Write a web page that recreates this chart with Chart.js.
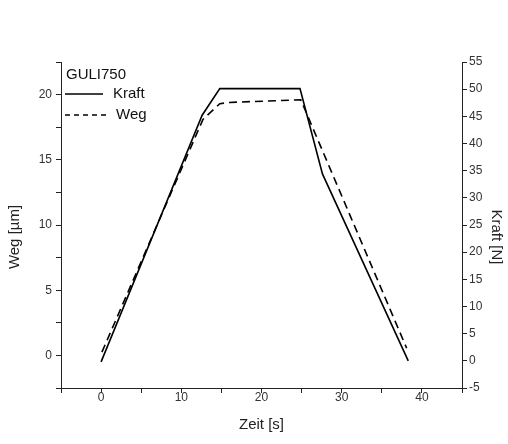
<!DOCTYPE html>
<html>
<head>
<meta charset="utf-8">
<script src="https://cdn.jsdelivr.net/npm/chart.js@4"></script>
<style>
  html,body{margin:0;padding:0;background:#fff;}
  #wrap{width:508px;height:444px;}
</style>
</head>
<body>
<div id="wrap"><canvas id="chart" width="508" height="444"></canvas></div>
<script>
/**** GULI750: force and displacement over time ****/

// time stamps [s] and values of the two recorded channels
const kraftTime = [0, 12.6, 14.8, 24.8, 27.6, 38.3];
const kraftVals = [-0.2, 45.2, 50.1, 50.1, 34.4, 0];     // Kraft [N]
const wegTime   = [0.1, 12.7, 14.8, 16.0, 24.9, 38.1];
const wegVals   = [0.25, 18.1, 19.3, 19.4, 19.6, 0.55];  // Weg [µm]

const legendTitle = "GULI750";
const seriesNames = ["Kraft", "Weg"];
const axisTitles  = { x: "Zeit [s]", y: "Weg [µm]", y1: "Kraft [N]" };

const INK  = "#222";
const FONT = "'Liberation Sans', Arial, sans-serif";

const toPts = (xs, ys) => xs.map((x, i) => ({ x, y: ys[i] }));

// legend + y titles drawn by hand (legend sits inside the plot area)
const overlay = {
  id: "overlay",
  afterDraw(chart) {
    const { ctx, chartArea: a } = chart;
    ctx.save();
    ctx.fillStyle = "#111";
    ctx.textBaseline = "middle";
    ctx.font = "15px " + FONT;
    ctx.fillText(legendTitle, a.left + 5, a.top + 13);

    const rows = [
      { ds: chart.data.datasets[0], y: a.top + 32, len: 38, gap: 10 },
      { ds: chart.data.datasets[1], y: a.top + 53, len: 45, gap: 6 }
    ];
    rows.forEach(r => {
      ctx.strokeStyle = r.ds.borderColor;
      ctx.lineWidth = r.ds.borderWidth;
      ctx.setLineDash(r.ds.borderDash && r.ds.borderDash.length ? [5, 4] : []);
      ctx.beginPath();
      ctx.moveTo(a.left + 4, r.y);
      ctx.lineTo(a.left + 4 + r.len, r.y);
      ctx.stroke();
      ctx.setLineDash([]);
      ctx.fillText(r.ds.label, a.left + 4 + r.len + r.gap, r.y);
    });

    // vertical axis titles
    const midY = (a.top + a.bottom) / 2 + 12;
    ctx.fillStyle = INK;
    ctx.textAlign = "center";
    ctx.font = "15px " + FONT;
    ctx.translate(15, midY);
    ctx.rotate(-Math.PI / 2);
    ctx.fillText(axisTitles.y, 0, 0);
    ctx.setTransform(1, 0, 0, 1, 0, 0);
    ctx.translate(chart.width - 12, midY);
    ctx.rotate(Math.PI / 2);
    ctx.fillText(axisTitles.y1, 0, 0);
    ctx.restore();
  }
};

const axisCommon = {
  type: "linear",
  grid: { display: true, drawOnChartArea: false, drawTicks: true, tickLength: 5, color: INK, lineWidth: 1 },
  border: { display: true, color: INK, width: 1 },
  ticks: { color: "#333", font: { family: FONT, size: 12 } }
};

new Chart(document.getElementById("chart"), {
  type: "line",
  data: {
    datasets: [
      {
        label: seriesNames[0],
        data: toPts(kraftTime, kraftVals),
        yAxisID: "y1",
        borderColor: "#000",
        borderWidth: 1.6,
        pointRadius: 0,
        tension: 0,
        fill: false
      },
      {
        label: seriesNames[1],
        data: toPts(wegTime, wegVals),
        yAxisID: "y",
        borderColor: "#000",
        borderWidth: 1.6,
        borderDash: [8, 5],
        pointRadius: 0,
        tension: 0,
        fill: false
      }
    ]
  },
  options: {
    responsive: false,
    animation: false,
    parsing: false,
    layout: { padding: { top: 62, left: 0, right: 0, bottom: 0 } },
    plugins: { legend: { display: false }, tooltip: { enabled: false } },
    scales: {
      x: {
        ...axisCommon,
        position: "bottom",
        min: -5, max: 45,
        ticks: { ...axisCommon.ticks, stepSize: 5, padding: -3, maxRotation: 0,
                 callback: v => (v % 10 === 0 ? v : "") },
        title: { display: true, text: axisTitles.x, color: INK,
                 font: { family: FONT, size: 15 }, padding: { top: 0, bottom: 10 } },
        afterFit: s => { s.height = 56; }
      },
      y: {
        ...axisCommon,
        position: "left",
        min: -2.5, max: 22.5,
        ticks: { ...axisCommon.ticks, stepSize: 2.5, padding: 4,
                 callback: v => (v % 5 === 0 ? v : "") },
        afterFit: s => { s.width = 61; }
      },
      y1: {
        ...axisCommon,
        position: "right",
        min: -5, max: 55,
        ticks: { ...axisCommon.ticks, stepSize: 2.5, padding: 2,
                 callback: v => (v % 5 === 0 ? v : "") },
        afterFit: s => { s.width = 46; }
      }
    }
  },
  plugins: [overlay]
});
</script>
</body>
</html>
